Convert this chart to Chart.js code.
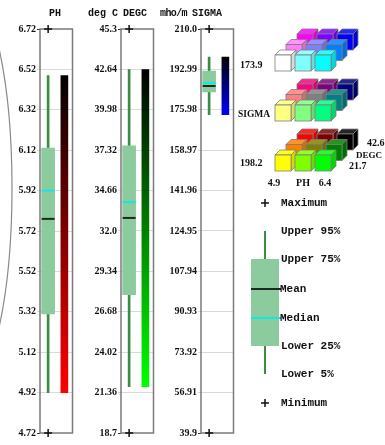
<!DOCTYPE html>
<html>
<head>
<meta charset="utf-8">
<script src="https://cdn.jsdelivr.net/npm/chart.js@4.4.1/dist/chart.umd.min.js"></script>
<style>
  html, body { margin: 0; padding: 0; background: #fff; width: 385px; height: 445px; overflow: hidden; position: relative; }
  canvas { position: absolute; top: 0; }
  .mono { position: absolute; font: bold 10px "Liberation Mono", "DejaVu Sans Mono", monospace; color: #111; white-space: nowrap; line-height: 10px; }
  .key  { position: absolute; font: bold 11px "Liberation Mono", "DejaVu Sans Mono", monospace; color: #111; white-space: nowrap; line-height: 12px; }
  .num  { position: absolute; font: bold 10px "Liberation Serif", "DejaVu Serif", serif; color: #111; white-space: nowrap; line-height: 10px; }
  .mid  { transform: translateX(-50%); }
</style>
</head>
<body>
<canvas id="c0" width="81" height="445" style="left:0px"></canvas>
<canvas id="c1" width="81" height="445" style="left:81px"></canvas>
<canvas id="c2" width="81" height="445" style="left:161px"></canvas>
<canvas id="keys" width="385" height="445" style="left:0px"></canvas>

<div class="mono" style="left:49px;top:9px">PH</div>
<div class="mono" style="left:88px;top:9px">deg C</div>
<div class="mono" style="left:123px;top:9px">DEGC</div>
<div class="mono" style="left:160px;top:9px;letter-spacing:-0.6px">mho/m</div>
<div class="mono" style="left:192px;top:9px">SIGMA</div>

<div class="num" id="sigLo" style="left:240px;top:60px"></div>
<div class="num" style="left:238px;top:109px;font-size:9.5px">SIGMA</div>
<div class="num" id="sigHi" style="left:240px;top:158px"></div>
<div class="num" id="degHi" style="left:367px;top:138px"></div>
<div class="num" style="left:356px;top:150px;font-size:9px">DEGC</div>
<div class="num" id="degLo" style="left:349px;top:161px"></div>
<div class="num mid" id="phLo" style="left:274px;top:178px"></div>
<div class="num mid" style="left:303px;top:178px">PH</div>
<div class="num mid" id="phHi" style="left:325px;top:178px"></div>

<div class="key" style="left:281px;top:197px">Maximum</div>
<div class="key" style="left:281px;top:225px">Upper 95%</div>
<div class="key" style="left:281px;top:253px">Upper 75%</div>
<div class="key" style="left:280px;top:283px">Mean</div>
<div class="key" style="left:280px;top:312px">Median</div>
<div class="key" style="left:281px;top:340px">Lower 25%</div>
<div class="key" style="left:281px;top:368px">Lower 5%</div>
<div class="key" style="left:281px;top:397px">Minimum</div>

<script>
// Variables shown, one panel each
const VARIABLES = ['PH', 'DEGC', 'SIGMA'];
// Summary statistics per variable
const MINIMUM  = [4.72, 18.7, 39.9];
const LOWER_5  = [4.92, 21.75, 173.95];
const LOWER_25 = [5.31, 27.8, 183.5];
const MEAN     = [5.78, 32.86, 186.0];
const MEDIAN   = [5.92, 33.9, 187.3];
const UPPER_75 = [6.13, 37.6, 192.3];
const UPPER_95 = [6.49, 42.62, 198.2];
const MAXIMUM  = [6.72, 45.3, 210.0];
// Axis tick labels per panel
const PH_TICKS    = ['4.72', '4.92', '5.12', '5.32', '5.52', '5.72', '5.92', '6.12', '6.32', '6.52', '6.72'];
const DEGC_TICKS  = ['18.7', '21.36', '24.02', '26.68', '29.34', '32.0', '34.66', '37.32', '39.98', '42.64', '45.3'];
const SIGMA_TICKS = ['39.9', '56.91', '73.92', '90.93', '107.94', '124.95', '141.96', '158.97', '175.98', '192.99', '210.0'];
const TICKS = [PH_TICKS, DEGC_TICKS, SIGMA_TICKS];
// Colour each variable ramps to at its low end
const RAMP_LOW = ['#ff0000', '#00ff00', '#0000ff'];

const WHISKER = '#3a8e44';
const BOX_FILL = '#8ccb9e';
const MEAN_COLOR = '#1d2a22';
const MEDIAN_COLOR = '#10e8e8';

// Range labels of the colour cube, truncated to one decimal
const trunc1 = v => (Math.floor(v * 10 + 1e-9) / 10).toFixed(1);
document.getElementById('phLo').textContent = trunc1(LOWER_5[0]);
document.getElementById('phHi').textContent = trunc1(UPPER_95[0]);
document.getElementById('degLo').textContent = trunc1(LOWER_5[1]);
document.getElementById('degHi').textContent = trunc1(UPPER_95[1]);
document.getElementById('sigLo').textContent = trunc1(LOWER_5[2]);
document.getElementById('sigHi').textContent = trunc1(UPPER_95[2]);

// Grey frame around each panel's plot area
const framePlugin = {
  id: 'frame',
  beforeDatasetsDraw(chart) {
    const a = chart.chartArea, ctx = chart.ctx;
    ctx.save();
    ctx.strokeStyle = '#7a7a7a';
    ctx.lineWidth = 1.5;
    ctx.strokeRect(a.left, a.top, a.right - a.left, a.bottom - a.top);
    ctx.restore();
  }
};

function panel(i) {
  const ticks = TICKS[i];
  const last = ticks.length - 1;
  const isEnd = c => c.index === 0 || c.index === last;
  const gradient = (c) => {
    const chart = c.chart;
    if (!chart.chartArea) return RAMP_LOW[i];
    const y = chart.scales.y;
    const g = chart.ctx.createLinearGradient(0, y.getPixelForValue(LOWER_5[i]), 0, y.getPixelForValue(UPPER_95[i]));
    g.addColorStop(0, RAMP_LOW[i]);
    g.addColorStop(1, '#000000');
    return g;
  };
  const marker = (value, style, radius, color, width) => ({
    type: 'line', data: [value, null], showLine: false, clip: false, order: 0,
    pointStyle: style, pointRadius: radius, pointBorderColor: color,
    pointBackgroundColor: color, pointBorderWidth: width
  });
  return new Chart(document.getElementById('c' + i), {
    type: 'bar',
    data: {
      labels: ['stats', 'range'],
      datasets: [
        { data: [[LOWER_5[i], UPPER_95[i]], null], backgroundColor: WHISKER, barThickness: 2, grouped: false, order: 5 },
        { data: [[LOWER_25[i], UPPER_75[i]], null], backgroundColor: BOX_FILL, barThickness: 13, grouped: false, order: 4 },
        { data: [null, [LOWER_5[i], UPPER_95[i]]], backgroundColor: gradient, barThickness: 7, grouped: false, order: 3 },
        marker(MEAN[i], 'line', 6.5, MEAN_COLOR, 2),
        marker(MEDIAN[i], 'line', 6.5, MEDIAN_COLOR, 2),
        marker(MAXIMUM[i], 'cross', 4, '#111', 1.5),
        marker(MINIMUM[i], 'cross', 4, '#111', 1.5)
      ]
    },
    options: {
      responsive: false, animation: false, devicePixelRatio: 1, events: [],
      layout: { padding: { top: 29, bottom: 12, left: 0, right: 4 } },
      plugins: { legend: { display: false }, tooltip: { enabled: false } },
      scales: {
        x: { display: false },
        y: {
          min: MINIMUM[i], max: MAXIMUM[i],
          afterBuildTicks: s => { s.ticks = ticks.map(t => ({ value: parseFloat(t) })); },
          afterFit: s => { s.width = 40; },
          border: { display: false },
          grid: {
            color: c => isEnd(c) ? 'rgba(0,0,0,0)' : '#dadada',
            tickColor: c => isEnd(c) ? '#333' : '#dadada',
            tickLength: 3, lineWidth: 1
          },
          ticks: {
            autoSkip: false, padding: 1, color: '#111',
            font: { family: '"Liberation Serif", serif', size: 10, weight: 'bold' },
            callback: (v, idx) => ticks[idx]
          }
        }
      }
    },
    plugins: [framePlugin]
  });
}
VARIABLES.forEach((_, i) => panel(i));

// Colour cube key, box-plot key and the outline curve at the left edge
const LEVELS = [255, 128, 0];
const keyPlugin = {
  id: 'keys',
  afterDraw(chart) {
    const ctx = chart.ctx;
    ctx.save();
    // outline curve
    ctx.strokeStyle = '#8a8a8a';
    ctx.lineWidth = 1.2;
    ctx.beginPath();
    ctx.ellipse(-40, 188, 52, 211, 0, 0, Math.PI * 2);
    ctx.stroke();

    // colour cubes: columns = PH, rows in depth = DEGC, layers = SIGMA
    const S = 16, D = 5, X0 = 275, Y0 = 155;
    const shade = (r, g, b, f) => `rgb(${Math.round(r * f)},${Math.round(g * f)},${Math.round(b * f)})`;
    const lift = (r, g, b, f) => `rgb(${Math.round(r + (255 - r) * f)},${Math.round(g + (255 - g) * f)},${Math.round(b + (255 - b) * f)})`;
    ctx.lineWidth = 0.8;
    ctx.strokeStyle = '#7d7d7d';
    for (let k = 2; k >= 0; k--) {
      for (let j = 2; j >= 0; j--) {
        for (let i = 0; i < 3; i++) {
          const r = LEVELS[i], g = LEVELS[j], b = LEVELS[2 - k];
          const x = X0 + 20 * i + 11 * j;
          const y = Y0 - 50 * k - 10.5 * j;
          // top face
          ctx.fillStyle = lift(r, g, b, 0.15);
          ctx.beginPath();
          ctx.moveTo(x, y); ctx.lineTo(x + D, y - D); ctx.lineTo(x + S + D, y - D); ctx.lineTo(x + S, y); ctx.closePath();
          ctx.fill(); ctx.stroke();
          // side face
          ctx.fillStyle = shade(r, g, b, 0.85);
          ctx.beginPath();
          ctx.moveTo(x + S, y); ctx.lineTo(x + S + D, y - D); ctx.lineTo(x + S + D, y + S - D); ctx.lineTo(x + S, y + S); ctx.closePath();
          ctx.fill(); ctx.stroke();
          // front face
          ctx.fillStyle = `rgb(${r},${g},${b})`;
          ctx.fillRect(x, y, S, S);
          ctx.strokeRect(x, y, S, S);
        }
      }
    }

    // box-plot key
    ctx.fillStyle = WHISKER;
    ctx.fillRect(264, 231, 2, 143);
    ctx.fillStyle = BOX_FILL;
    ctx.fillRect(251, 259, 28, 87);
    ctx.lineWidth = 2;
    ctx.strokeStyle = MEAN_COLOR;
    ctx.beginPath(); ctx.moveTo(251, 289); ctx.lineTo(281, 289); ctx.stroke();
    ctx.strokeStyle = MEDIAN_COLOR;
    ctx.beginPath(); ctx.moveTo(251, 318); ctx.lineTo(281, 318); ctx.stroke();
    ctx.strokeStyle = '#111';
    ctx.lineWidth = 1.5;
    [203, 403].forEach(cy => {
      ctx.beginPath();
      ctx.moveTo(261, cy); ctx.lineTo(269, cy);
      ctx.moveTo(265, cy - 4); ctx.lineTo(265, cy + 4);
      ctx.stroke();
    });
    ctx.restore();
  }
};
new Chart(document.getElementById('keys'), {
  type: 'scatter',
  data: { datasets: [] },
  options: {
    responsive: false, animation: false, devicePixelRatio: 1, events: [],
    plugins: { legend: { display: false }, tooltip: { enabled: false } },
    scales: { x: { display: false }, y: { display: false } }
  },
  plugins: [keyPlugin]
});
</script>
</body>
</html>
